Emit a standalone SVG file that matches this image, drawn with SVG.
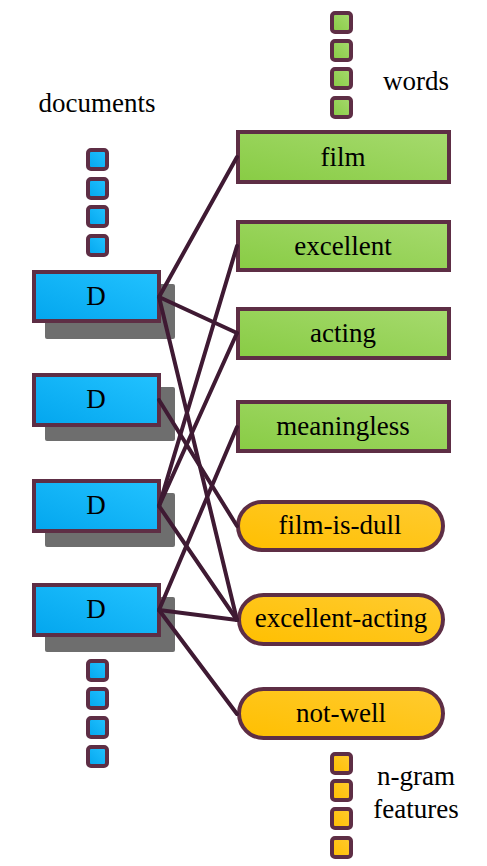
<svg xmlns="http://www.w3.org/2000/svg" width="487" height="866" viewBox="0 0 487 866">
<defs>
<linearGradient id="gb" x1="0" y1="1" x2="1" y2="0">
<stop offset="0" stop-color="#03a6ee"/><stop offset="1" stop-color="#22c2ff"/>
</linearGradient>
<linearGradient id="gg" x1="0" y1="1" x2="1" y2="0">
<stop offset="0" stop-color="#88cc44"/><stop offset="1" stop-color="#a6da6e"/>
</linearGradient>
<linearGradient id="go" x1="0" y1="1" x2="1" y2="0">
<stop offset="0" stop-color="#ffbf00"/><stop offset="1" stop-color="#ffcb30"/>
</linearGradient>
</defs>
<rect width="487" height="866" fill="#fff"/>
<g id="labels" text-anchor="middle" fill="#000">
<text x="97" y="112" font-family="Liberation Serif" font-size="27">documents</text>
<text x="416" y="90" font-family="Liberation Serif" font-size="27">words</text>
<text x="416" y="785" font-family="Liberation Serif" font-size="27">n-gram</text>
<text x="416" y="818" font-family="Liberation Serif" font-size="27">features</text>
</g>
<g id="doc-dots-top" fill="url(#gb)" stroke="#5e2e45" stroke-width="4">
<rect x="88" y="150" width="19" height="19" rx="3"/>
<rect x="88" y="179" width="19" height="19" rx="3"/>
<rect x="88" y="207" width="19" height="19" rx="3"/>
<rect x="88" y="236" width="19" height="19" rx="3"/>
</g>
<g id="doc-dots-bottom" fill="url(#gb)" stroke="#5e2e45" stroke-width="4">
<rect x="88" y="661" width="19" height="19" rx="3"/>
<rect x="88" y="689" width="19" height="19" rx="3"/>
<rect x="88" y="718" width="19" height="19" rx="3"/>
<rect x="88" y="747" width="19" height="19" rx="3"/>
</g>
<g id="word-dots" fill="url(#gg)" stroke="#5e2e45" stroke-width="4">
<rect x="332" y="13" width="19" height="19" rx="3"/>
<rect x="332" y="41" width="19" height="19" rx="3"/>
<rect x="332" y="69" width="19" height="19" rx="3"/>
<rect x="332" y="98" width="19" height="19" rx="3"/>
</g>
<g id="ngram-dots" fill="url(#go)" stroke="#5e2e45" stroke-width="4">
<rect x="332" y="754" width="19" height="19" rx="3"/>
<rect x="332" y="781" width="19" height="19" rx="3"/>
<rect x="332" y="809" width="19" height="19" rx="3"/>
<rect x="332" y="838" width="19" height="19" rx="3"/>
</g>
<g id="documents" text-anchor="middle">
<g id="D1"><rect fill="#6e6e6e" x="45" y="284" width="130" height="55" rx="2"/><rect fill="url(#gb)" stroke="#5e2e45" stroke-width="4" x="34" y="272" width="125" height="49"/><text x="96" y="305" font-family="Liberation Serif" font-size="27">D</text></g>
<g id="D2"><rect fill="#6e6e6e" x="45" y="387" width="130" height="54" rx="2"/><rect fill="url(#gb)" stroke="#5e2e45" stroke-width="4" x="34" y="375" width="125" height="50"/><text x="96" y="408" font-family="Liberation Serif" font-size="27">D</text></g>
<g id="D3"><rect fill="#6e6e6e" x="45" y="493" width="130" height="54" rx="2"/><rect fill="url(#gb)" stroke="#5e2e45" stroke-width="4" x="34" y="481" width="125" height="50"/><text x="96" y="514" font-family="Liberation Serif" font-size="27">D</text></g>
<g id="D4"><rect fill="#6e6e6e" x="45" y="597" width="130" height="55" rx="2"/><rect fill="url(#gb)" stroke="#5e2e45" stroke-width="4" x="34" y="585" width="125" height="50"/><text x="96" y="618" font-family="Liberation Serif" font-size="27">D</text></g>
</g>
<g id="words" text-anchor="middle">
<g id="w-film"><rect fill="url(#gg)" stroke="#5e2e45" stroke-width="4" x="238" y="132" width="211" height="50"/><text x="343" y="166" font-family="Liberation Serif" font-size="27">film</text></g>
<g id="w-excellent"><rect fill="url(#gg)" stroke="#5e2e45" stroke-width="4" x="238" y="222" width="211" height="48"/><text x="343" y="255" font-family="Liberation Serif" font-size="27">excellent</text></g>
<g id="w-acting"><rect fill="url(#gg)" stroke="#5e2e45" stroke-width="4" x="238" y="309" width="211" height="49"/><text x="343" y="342" font-family="Liberation Serif" font-size="27">acting</text></g>
<g id="w-meaningless"><rect fill="url(#gg)" stroke="#5e2e45" stroke-width="4" x="238" y="402" width="211" height="49"/><text x="343" y="435" font-family="Liberation Serif" font-size="27">meaningless</text></g>
</g>
<g id="ngrams" text-anchor="middle">
<g id="n-film-is-dull"><rect fill="url(#go)" stroke="#5e2e45" stroke-width="4" x="238" y="502" width="205" height="48" rx="24"/><text x="340" y="534" font-family="Liberation Serif" font-size="27">film-is-dull</text></g>
<g id="n-excellent-acting"><rect fill="url(#go)" stroke="#5e2e45" stroke-width="4" x="239" y="595" width="204" height="49" rx="24.5"/><text x="341" y="627" font-family="Liberation Serif" font-size="27">excellent-acting</text></g>
<g id="n-not-well"><rect fill="url(#go)" stroke="#5e2e45" stroke-width="4" x="239" y="689" width="204" height="49" rx="24.5"/><text x="341" y="722" font-family="Liberation Serif" font-size="27">not-well</text></g>
</g>
<g id="connectors" stroke="#3f1a33" stroke-width="4" fill="none" stroke-linecap="round">
<line x1="159" y1="297" x2="237" y2="157"/>
<line x1="159" y1="297" x2="237" y2="333"/>
<line x1="159" y1="297" x2="237" y2="620"/>
<line x1="159" y1="400" x2="237" y2="526"/>
<line x1="159" y1="506" x2="237" y2="246"/>
<line x1="159" y1="506" x2="237" y2="333"/>
<line x1="159" y1="506" x2="237" y2="620"/>
<line x1="159" y1="610" x2="237" y2="427"/>
<line x1="159" y1="610" x2="237" y2="620"/>
<line x1="159" y1="610" x2="237" y2="714"/>
</g>
</svg>
